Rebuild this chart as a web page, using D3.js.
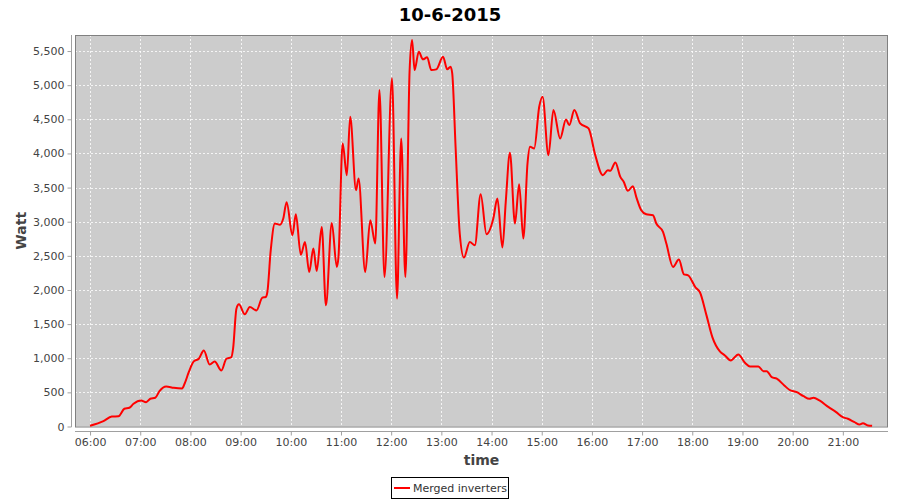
<!DOCTYPE html>
<html>
<head>
<meta charset="utf-8">
<script src="https://cdn.jsdelivr.net/npm/d3@7"></script>
<style>
  html, body { margin: 0; padding: 0; background: #fff; }
  svg { display: block; }
</style>
</head>
<body>
<svg id="chart" width="900" height="500"></svg>
<script>
const chartTitle = "10-6-2015";
const seriesName = "Merged inverters";
const xAxisLabel = "time";
const yAxisLabel = "Watt";

const times = [
  "06:00","06:16","06:26","06:34","06:41","06:47","06:52","07:01","07:07","07:12",
  "07:18","07:23","07:31","07:40","07:50","07:53","07:58","08:04","08:10","08:16",
  "08:23","08:29","08:37","08:43","08:49","08:51","08:55","08:58","09:05","09:11",
  "09:19","09:26","09:30","09:32","09:36","09:41","09:47","09:51","09:55","10:02",
  "10:06","10:12","10:17","10:22","10:27","10:31","10:37","10:42","10:49","10:55",
  "10:57","11:02","11:07","11:11","11:18","11:21","11:29","11:35","11:41","11:46",
  "11:52","12:01","12:07","12:12","12:17","12:22","12:25","12:28","12:33","12:38",
  "12:43","12:48","12:54","13:02","13:07","13:11","13:13","13:17","13:22","13:27",
  "13:34","13:40","13:47","13:54","14:02","14:07","14:13","14:17","14:22","14:28",
  "14:33","14:38","14:43","14:46","14:51","14:57","15:01","15:08","15:14","15:22",
  "15:29","15:33","15:39","15:46","15:56","16:04","16:13","16:19","16:22","16:28",
  "16:34","16:38","16:43","16:49","16:53","16:59","17:05","17:13","17:17","17:25",
  "17:29","17:37","17:44","17:50","17:55","18:04","18:09","18:17","18:24","18:33",
  "18:39","18:46","18:55","19:03","19:09","19:19","19:25","19:29","19:35","19:41",
  "19:50","19:56","20:05","20:13","20:20","20:25","20:32","20:43","20:52","21:00",
  "21:06","21:14","21:20","21:24","21:30","21:35"
];

const watts = [
  10,78,146,150,260,275,333,381,357,406,
  421,518,587,567,557,626,796,953,993,1115,
  909,953,821,993,1017,1140,1726,1789,1643,1750,
  1701,1887,1897,1970,2581,2973,2955,3046,3285,2801,
  3110,2515,2703,2263,2606,2278,2923,1775,2982,2337,
  2483,4146,3681,4537,3461,3633,2263,3021,2680,4928,
  2190,5100,1873,4220,2190,5197,5661,5221,5490,5378,
  5408,5221,5232,5417,5232,5271,5173,4097,2826,2474,
  2703,2655,3403,2816,3040,3339,2621,3290,4009,2973,
  3550,2753,3853,4097,4073,4683,4830,3975,4635,4220,
  4498,4415,4635,4440,4366,3975,3681,3755,3745,3868,
  3657,3584,3452,3520,3364,3168,3109,3095,2973,2850,
  2680,2337,2445,2229,2215,2034,1970,1628,1310,1100,
  1041,968,1056,934,880,880,811,811,723,700,
  601,538,503,444,406,421,381,283,210,136,
  113,63,29,48,15,10
];

const xTickLabels = ["06:00","07:00","08:00","09:00","10:00","11:00","12:00","13:00",
  "14:00","15:00","16:00","17:00","18:00","19:00","20:00","21:00"];
const yTickValues = [0,500,1000,1500,2000,2500,3000,3500,4000,4500,5000,5500];
const xDomainLabels = ["05:42","21:54"];
const yDomain = [0, 5735];

const parseT = d3.timeParse("%H:%M");
const data = times.map((t, i) => ({ t: parseT(t), v: watts[i] }));

const svg = d3.select("#chart");
const plot = { left: 75, right: 888, top: 35, bottom: 426.5 };

const x = d3.scaleTime()
  .domain(xDomainLabels.map(parseT))
  .range([plot.left, plot.right]);
const y = d3.scaleLinear()
  .domain(yDomain)
  .range([plot.bottom, plot.top]);

const font = "'DejaVu Sans', sans-serif";

svg.append("rect").attr("x", 0).attr("y", 0).attr("width", 900).attr("height", 500).attr("fill", "#fff");

svg.append("rect")
  .attr("x", plot.left).attr("y", plot.top)
  .attr("width", plot.right - plot.left).attr("height", plot.bottom - plot.top)
  .attr("fill", "#cccccc");

const grid = svg.append("g");
grid.selectAll("line.v").data(xTickLabels.map(parseT)).enter().append("line")
  .attr("x1", d => Math.round(x(d)) + 0.5).attr("x2", d => Math.round(x(d)) + 0.5)
  .attr("y1", plot.top).attr("y2", plot.bottom)
  .attr("stroke", "#ffffff").attr("stroke-opacity", 0.8).attr("stroke-width", 1)
  .attr("stroke-dasharray", "2,2");
grid.selectAll("line.h").data(yTickValues.filter(v => v > 0)).enter().append("line")
  .attr("x1", plot.left).attr("x2", plot.right)
  .attr("y1", d => Math.round(y(d)) + 0.5).attr("y2", d => Math.round(y(d)) + 0.5)
  .attr("stroke", "#ffffff").attr("stroke-opacity", 0.8).attr("stroke-width", 1)
  .attr("stroke-dasharray", "2,2");

svg.append("rect")
  .attr("x", plot.left + 0.5).attr("y", plot.top + 0.5)
  .attr("width", plot.right - plot.left - 1).attr("height", plot.bottom - plot.top)
  .attr("fill", "none").attr("stroke", "#808080").attr("stroke-width", 1);

const line = d3.line()
  .x(d => x(d.t)).y(d => y(d.v))
  .curve(d3.curveMonotoneX);
svg.append("path").datum(data)
  .attr("d", line)
  .attr("fill", "none").attr("stroke", "#ff0000")
  .attr("stroke-width", 2).attr("stroke-linejoin", "round");

const yAxisG = svg.append("g").attr("transform", "translate(71.5,0)")
  .call(d3.axisLeft(y).tickValues(yTickValues).tickSize(4).tickPadding(3)
    .tickFormat(d3.format(",")));
yAxisG.select(".domain").attr("d", `M0,${plot.top}V${plot.bottom + 0.5}`).attr("stroke", "#a0a0a0");
yAxisG.selectAll(".tick line").attr("stroke", "#a0a0a0");
yAxisG.selectAll(".tick text").attr("fill", "#444").style("font-family", font).style("font-size", "11px");

const xAxisG = svg.append("g").attr("transform", "translate(0,431.5)")
  .call(d3.axisBottom(x).tickValues(xTickLabels.map(parseT)).tickSize(4).tickPadding(3)
    .tickFormat(d3.timeFormat("%H:%M")));
xAxisG.select(".domain").attr("d", `M${plot.left},0H${plot.right}`).attr("stroke", "#a0a0a0");
xAxisG.selectAll(".tick line").attr("stroke", "#a0a0a0");
xAxisG.selectAll(".tick text").attr("fill", "#444").style("font-family", font).style("font-size", "11px");

svg.append("text").attr("x", 450).attr("y", 21).attr("text-anchor", "middle")
  .style("font-family", font).style("font-weight", "bold").style("font-size", "18px")
  .attr("fill", "#000").text(chartTitle);

svg.append("text").attr("x", (plot.left + plot.right) / 2).attr("y", 465).attr("text-anchor", "middle")
  .style("font-family", font).style("font-weight", "bold").style("font-size", "14px")
  .attr("fill", "#444").text(xAxisLabel);
svg.append("text").attr("transform", `translate(26,${(plot.top + plot.bottom) / 2}) rotate(-90)`)
  .attr("text-anchor", "middle")
  .style("font-family", font).style("font-weight", "bold").style("font-size", "14px")
  .attr("fill", "#444").text(yAxisLabel);

const lg = svg.append("g");
lg.append("rect").attr("x", 391.5).attr("y", 477.5).attr("width", 117).attr("height", 21)
  .attr("fill", "#fff").attr("stroke", "#000").attr("stroke-width", 1);
lg.append("line").attr("x1", 394).attr("x2", 410).attr("y1", 488).attr("y2", 488)
  .attr("stroke", "#ff0000").attr("stroke-width", 2);
lg.append("text").attr("x", 413).attr("y", 492)
  .style("font-family", font).style("font-size", "11px").attr("fill", "#333").text(seriesName);
</script>
</body>
</html>
